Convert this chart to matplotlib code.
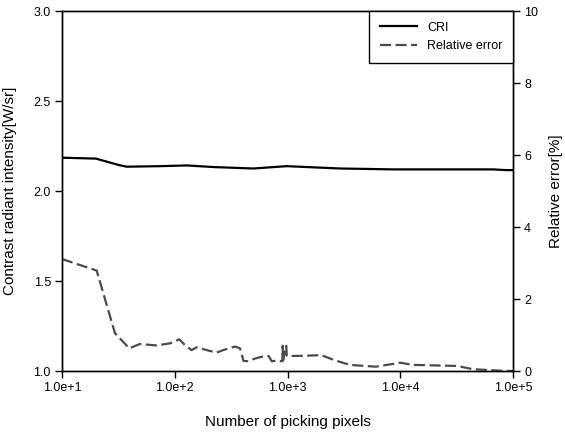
import numpy as np
import matplotlib
matplotlib.use("Agg")
import matplotlib.pyplot as plt
from matplotlib.ticker import FixedLocator, FuncFormatter, NullLocator

plt.rcParams['font.family'] = ['Liberation Sans', 'DejaVu Sans']

# CRI series (left axis)
cri_x = [10, 20, 31.6, 37.5, 74, 128, 220, 498, 984, 2920, 8710, 66800, 87000, 100000]
cri_y = [2.185, 2.18, 2.145, 2.135, 2.138, 2.142, 2.133, 2.125, 2.138, 2.125, 2.12, 2.12, 2.116, 2.116]

# Relative error series (right axis, %)
err_x = [10, 20.3, 29.5, 39.5, 49, 69, 91, 110, 123, 141, 157, 192, 235, 269, 342, 379,
         407, 450, 520, 600, 680, 725, 800, 900, 906, 915, 975, 985, 1288, 2000, 2560,
         3560, 6100, 10000, 13000, 32000, 44000, 58000, 76000, 100000]
err_y = [3.11, 2.79, 1.05, 0.63, 0.75, 0.71, 0.77, 0.88, 0.72, 0.58, 0.66, 0.58, 0.51, 0.58, 0.68, 0.63,
         0.28, 0.27, 0.35, 0.40, 0.42, 0.27, 0.29, 0.27, 0.70, 0.30, 0.70, 0.42, 0.42, 0.44, 0.31,
         0.17, 0.12, 0.23, 0.17, 0.14, 0.05, 0.03, 0.01, 0.0]

xticks = [1e1, 1e2, 1e3, 1e4, 1e5]
left_ticks = [1.0, 1.5, 2.0, 2.5, 3.0]
right_ticks = [0, 2, 4, 6, 8, 10]

fig = plt.figure(figsize=(5.65, 4.33), dpi=100)
ax = fig.add_axes([62/565, 1-371/433, (513-62)/565, (371-11)/433])
ax2 = ax.twinx()

l1, = ax.plot(cri_x, cri_y, color='black', lw=1.6, label='CRI')
l2, = ax2.plot(err_x, err_y, color='#4a4a4a', lw=1.6, dashes=(5, 2), label='Relative error')

ax.set_xscale('log')
ax.set_xlim(10, 1e5)
ax.set_ylim(1.0, 3.0)
ax2.set_ylim(0, 10)

ax.xaxis.set_major_locator(FixedLocator(xticks))
ax.xaxis.set_minor_locator(NullLocator())
ax.xaxis.set_major_formatter(FuncFormatter(lambda v, p: "1.0e+%d" % int(round(np.log10(v)))))
ax.yaxis.set_major_locator(FixedLocator(left_ticks))
ax.yaxis.set_major_formatter(FuncFormatter(lambda v, p: "%.1f" % v))
ax2.yaxis.set_major_locator(FixedLocator(right_ticks))
ax2.yaxis.set_major_formatter(FuncFormatter(lambda v, p: "%d" % v))

for a in (ax, ax2):
    a.tick_params(direction='out', length=5, width=1, labelsize=9, colors='black', pad=3)
    for s in a.spines.values():
        s.set_linewidth(1.0)
        s.set_color('black')

ax.set_xlabel('Number of picking pixels', fontsize=11, labelpad=15)
ax.set_ylabel('Contrast radiant intensity[W/sr]', fontsize=11, labelpad=12)
ax2.set_ylabel('Relative error[%]', fontsize=11, labelpad=8)

leg = ax2.legend(handles=[l1, l2], loc='upper right', borderaxespad=0, fancybox=False,
                 edgecolor='black', framealpha=1, fontsize=9, handlelength=3.0,
                 borderpad=0.85, labelspacing=0.5, handletextpad=0.8)
leg.get_frame().set_linewidth(1.0)

fig.savefig('out.png', dpi=100)
